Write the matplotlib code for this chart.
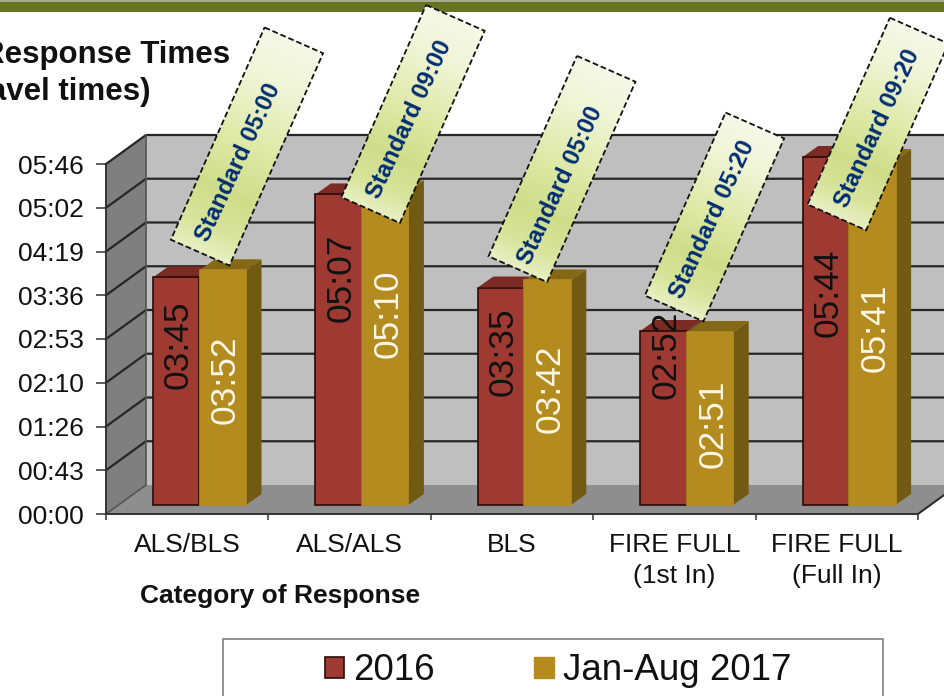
import numpy as np
from matplotlib import pyplot as plt
from matplotlib.patches import Polygon, Rectangle, Patch
from matplotlib.transforms import Affine2D

plt.rcParams['font.family'] = ['Liberation Sans', 'DejaVu Sans']

categories = ['ALS/BLS', 'ALS/ALS', 'BLS', 'FIRE FULL\n(1st In)', 'FIRE FULL\n(Full In)']
times_2016 = ['03:45', '05:07', '03:35', '02:52', '05:44']
times_2017 = ['03:52', '05:10', '03:42', '02:51', '05:41']
standards = ['Standard 05:00', 'Standard 09:00', 'Standard 05:00', 'Standard 05:20', 'Standard 09:20']
tick_labels = ['00:00', '00:43', '01:26', '02:10', '02:53', '03:36', '04:19', '05:02', '05:46']
tick_seconds = [0, 43.25, 86.5, 129.75, 173, 216.25, 259.5, 302.75, 346]

# layout, in pixels of the picture
W, H = 945, 696
LEFT, RIGHT, ZERO, TOP = 106, 918, 514, 164
label_y_2016 = [345, 278, 352, 355, 293]
label_y_2017 = [380, 314, 389, 424, 328]
box_centers = [(247, 146.5), (413, 114), (562, 169), (714.5, 217), (878, 124)]
box_lengths = [232, 210, 219, 200, 204]
box_text = [(238, 162), (409, 119), (560, 185), (712.5, 219), (877, 128)]

RED, RED_TOP = '#9F3A32', '#7B2A24'
GOLD, GOLD_TOP, GOLD_SIDE = '#B38B1F', '#846815', '#735A12'


def seconds(txt):
    m, s = txt.split(':')
    return int(m) * 60 + int(s)


fig = plt.figure(figsize=(W / 100, H / 100), dpi=100, facecolor='white')
ax = fig.add_axes([LEFT / W, 1 - ZERO / H, (RIGHT - LEFT) / W, (ZERO - TOP) / H])
ax.set_xlim(0, 5)
ax.set_ylim(0, 346)
ax.patch.set_visible(False)

px_x = 5 / (RIGHT - LEFT)
px_y = 346 / (ZERO - TOP)
wall_dx, wall_dy = 40 * px_x, 29 * px_y


def poly(ax, pts, color, edge='none', lw=0, z=1):
    ax.add_patch(Polygon(pts, closed=True, facecolor=color, edgecolor=edge, linewidth=lw,
                         clip_on=False, zorder=z))


# walls and floor
poly(ax, [(wall_dx, wall_dy), (5.5, wall_dy), (5.5, 346 + wall_dy), (wall_dx, 346 + wall_dy)], '#BFBFBF')
poly(ax, [(0, 0), (wall_dx, wall_dy), (wall_dx, 346 + wall_dy), (0, 346)], '#7F7F7F')
poly(ax, [(0, 0), (5, 0), (5 + wall_dx, wall_dy), (wall_dx, wall_dy)], '#8E8E8E')

for t in tick_seconds[1:]:
    ax.plot([0, wall_dx, 5.5], [t, t + wall_dy, t + wall_dy], color='#262626', lw=1.6,
            clip_on=False, zorder=2)
ax.plot([0, wall_dx, wall_dx], [0, wall_dy, 346 + wall_dy], color='#555555', lw=1.2, clip_on=False, zorder=2)
ax.plot([5, 5 + wall_dx], [0, wall_dy], color='#262626', lw=1.4, clip_on=False, zorder=2)

# bars
bar_w = 46.5 * px_x
base = 9 * px_y
dep_x, dep_y = 15.5 * px_x, 11 * px_y


def draw_bar(x, v, front, top, side, edge, z):
    y = base + v
    poly(ax, [(x + bar_w, base), (x + bar_w + dep_x, base + dep_y),
              (x + bar_w + dep_x, y + dep_y), (x + bar_w, y)], side, z=z)
    poly(ax, [(x, y), (x + bar_w, y), (x + bar_w + dep_x, y + dep_y), (x + dep_x, y + dep_y)], top, z=z)
    ax.add_patch(Rectangle((x, base), bar_w, v, facecolor=front, edgecolor=edge, linewidth=1.2,
                           clip_on=False, zorder=z))


for i in range(len(categories)):
    draw_bar(i + 47 * px_x, seconds(times_2016[i]), RED, RED_TOP, '#5E1F1A', '#2A0A08', 3)
    draw_bar(i + 47 * px_x + bar_w, seconds(times_2017[i]), GOLD, GOLD_TOP, GOLD_SIDE, GOLD, 4)

# axes furniture
for name in ['top', 'right']:
    ax.spines[name].set_visible(False)
for name in ['left', 'bottom']:
    ax.spines[name].set_color('#333333')
    ax.spines[name].set_linewidth(1.4)
    ax.spines[name].set_zorder(5)
ax.set_yticks(tick_seconds)
ax.set_yticklabels(tick_labels, fontsize=19, color='#111111')
ax.tick_params(axis='y', length=7.2, width=1.1, pad=9, color='#333333')
ax.set_xticks(range(6))
ax.set_xticklabels([])
ax.set_xticks(np.arange(5) + 0.5, minor=True)
ax.set_xticklabels(categories, minor=True, fontsize=19, color='#111111', linespacing=1.35)
ax.tick_params(axis='x', which='major', length=4, width=1.1, color='#333333')
ax.tick_params(axis='x', which='minor', length=0, pad=14)

# overlay in picture pixels
ov = fig.add_axes([0, 0, 1, 1], zorder=5)
ov.set_xlim(0, W)
ov.set_ylim(H, 0)
ov.axis('off')

ov.add_patch(Rectangle((0, 1), W, 11, facecolor='#667321', edgecolor='none'))
ov.add_patch(Rectangle((0, 0), W, 1.5, facecolor='#A9AD8C', edgecolor='none'))

ov.text(230, 55, 'Response Times', ha='right', va='center', fontsize=22.5, fontweight='bold', color='#111111')
ov.text(150, 92, '(travel times)', ha='right', va='center', fontsize=22.5, fontweight='bold', color='#111111')
ov.text(280, 596, 'Category of Response', ha='center', va='center', fontsize=19, fontweight='bold',
        color='#111111')

# value labels inside the bars
for i in range(len(categories)):
    x0 = LEFT + i * (RIGHT - LEFT) / 5
    ov.text(x0 + 72.5, label_y_2016[i], times_2016[i], rotation=90, ha='center', va='center',
            fontsize=25.5, color='#111111')
    ov.text(x0 + 119.5, label_y_2017[i], times_2017[i], rotation=90, ha='center', va='center',
            fontsize=25.5, color='#FBF6E6')

# rotated standard callouts
gradient = np.array([[246, 249, 232], [240, 245, 215], [222, 233, 165], [207, 221, 138],
                     [216, 228, 155], [232, 240, 195]]) / 255
gradient = np.stack([np.interp(np.linspace(0, 1, 200), [0, .2, .5, .72, .88, 1], gradient[:, c])
                     for c in range(3)], axis=1)[:, None, :]
BOX_W, BOX_ANGLE = 64, 23.8

for (cx, cy), box_h, (tx, ty), txt in zip(box_centers, box_lengths, box_text, standards):
    tr = Affine2D().rotate_deg(BOX_ANGLE).translate(cx, cy) + ov.transData
    im = ov.imshow(gradient, extent=(-BOX_W / 2, BOX_W / 2, box_h / 2, -box_h / 2), aspect='auto',
                   interpolation='bilinear', transform=tr, zorder=6)
    edge = Polygon([(-BOX_W / 2, -box_h / 2), (BOX_W / 2, -box_h / 2), (BOX_W / 2, box_h / 2),
                    (-BOX_W / 2, box_h / 2)], closed=True, facecolor='none', edgecolor='#111111',
                   linewidth=1.3, linestyle=(0, (3.2, 1.6)), transform=tr, zorder=7)
    ov.add_patch(edge)
    im.set_clip_path(edge)
    ov.text(tx, ty, txt, rotation=65, rotation_mode='anchor', ha='center', va='center',
            fontsize=17.2, fontweight='bold', color='#002D72', zorder=8)
ov.set_xlim(0, W)
ov.set_ylim(H, 0)

# legend
ov.add_patch(Rectangle((222.5, 638.5), 660, 80, facecolor='white', edgecolor='#808080', linewidth=1.2))
handles = [Patch(facecolor=RED, edgecolor='#2A0A08', linewidth=1.2, label='2016'),
           Patch(facecolor=GOLD, edgecolor=GOLD, label='Jan-Aug 2017')]
ov.legend(handles=handles, ncol=2, loc='center', bbox_to_anchor=(558, 671), bbox_transform=ov.transData,
          frameon=False, fontsize=26.5, handlelength=0.54, handleheight=0.54, handletextpad=0.24,
          columnspacing=2.7, borderpad=0, borderaxespad=0, labelcolor='#111111')

fig.savefig('out.png', dpi=100)
